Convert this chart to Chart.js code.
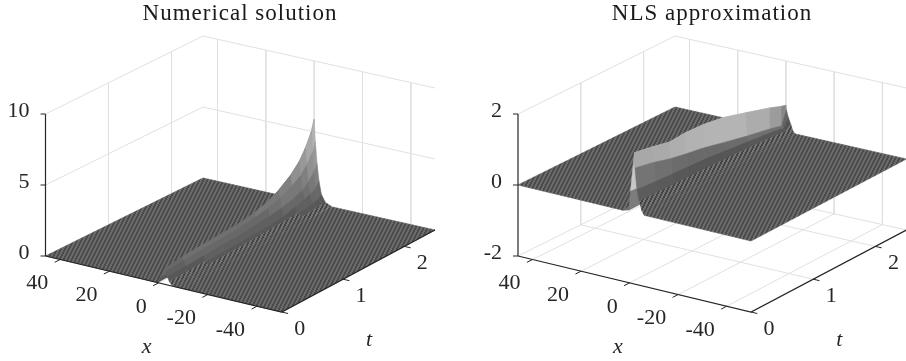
<!DOCTYPE html>
<html>
<head>
<meta charset="utf-8">
<script src="https://cdn.jsdelivr.net/npm/chart.js@4"></script>
<style>
  body { margin: 0; background: #fff; width: 906px; height: 361px; overflow: hidden; }
  canvas { position: absolute; top: 0; }
  #left { left: 0; }
  #right { left: 453px; }
</style>
</head>
<body>
<canvas id="left" width="453" height="361"></canvas>
<canvas id="right" width="453" height="361"></canvas>
<script>
// axis ticks
const xTicks = [40, 20, 0, -20, -40];
const tTicks = [0, 1, 2];
const numZTicks = [0, 5, 10];
const nlsZTicks = [-2, 0, 2];

// numerical solution: one row per t, one column per x offset from the crest
const numT = [0, 0.3, 0.6, 0.9, 1.2, 1.5, 1.7, 1.9, 2.1, 2.25, 2.35, 2.45, 2.5];
const numCrestX = [-2.4, -2.1, -1.85, -1.6, -1.3, -1, -0.85, -0.65, -0.45, -0.3, -0.2, -0.05, 0];
const numOffsets = [3, 1.2, 0, -0.5, -1.2, -2, -3, -4.6, -7];
const numZ = [
  [0, 0.5, 1.1, 0.9, 0.55, 0.25, 0.05, 0, 0],
  [0, 0.55, 1.25, 1, 0.6, 0.28, 0.08, 0, 0],
  [0, 0.6, 1.33, 1.05, 0.65, 0.32, 0.1, 0.01, 0],
  [0, 0.6, 1.38, 1.1, 0.7, 0.34, 0.12, 0.02, 0],
  [0, 0.6, 1.42, 1.15, 0.72, 0.38, 0.15, 0.03, 0],
  [0, 0.62, 1.6, 1.3, 0.82, 0.42, 0.17, 0.04, 0],
  [0, 0.65, 1.83, 1.45, 0.9, 0.46, 0.2, 0.05, 0],
  [0, 0.7, 2.25, 1.7, 1.05, 0.55, 0.24, 0.06, 0],
  [0, 0.75, 2.85, 2.1, 1.25, 0.68, 0.3, 0.08, 0],
  [0, 0.8, 3.5, 2.5, 1.5, 0.85, 0.38, 0.12, 0.01],
  [0, 0.85, 4.2, 3, 1.85, 1.05, 0.45, 0.16, 0.02],
  [0, 0.9, 5.1, 3.7, 2.4, 1.3, 0.55, 0.2, 0.03],
  [0, 1, 5.9, 4.3, 2.8, 1.6, 0.7, 0.22, 0.04]
];

// NLS approximation, same layout
const nlsT = [0, 0.3, 0.58, 0.84, 1.13, 1.46, 1.84, 2.23, 2.42, 2.5];
const nlsCrestX = [-2, -1.75, -1.55, -1.3, -1.05, -0.8, -0.45, -0.15, -0.05, 0];
const nlsOffsets = [4.9, 2.3, 1.6, 0.6, 0, -0.2, -1, -2, -3, -4];
const nlsZ = [
  [0, 0.05, 0.6, 1.3, 1.7, 1.27, 0.67, 0.36, 0.12, 0],
  [0, 0.05, 0.55, 1.2, 1.59, 1.15, 0.62, 0.34, 0.12, 0],
  [0, 0.05, 0.5, 1.1, 1.47, 1, 0.58, 0.32, 0.11, 0],
  [0, 0.05, 0.5, 1.1, 1.49, 0.9, 0.54, 0.3, 0.1, 0],
  [0, 0.05, 0.48, 1.05, 1.45, 0.8, 0.5, 0.28, 0.09, 0],
  [0, 0.04, 0.45, 0.95, 1.35, 0.65, 0.43, 0.25, 0.08, 0],
  [0, 0.03, 0.38, 0.8, 1.14, 0.48, 0.34, 0.2, 0.06, 0],
  [0, 0.03, 0.3, 0.65, 0.92, 0.33, 0.25, 0.15, 0.05, 0],
  [0, 0.03, 0.27, 0.55, 0.79, 0.24, 0.19, 0.12, 0.04, 0],
  [0, 0.02, 0.25, 0.5, 0.75, 0.62, 0.42, 0.24, 0.05, 0]
];

const xMin = -50, xMax = 46, tMax = 2.5;

function makeHatch(ctx, dark, light) {
  const tile = document.createElement('canvas');
  tile.width = 4; tile.height = 8;
  const c = tile.getContext('2d');
  for (let y = 0; y < 8; y++) {
    for (let x = 0; x < 4; x++) {
      const on = (x + Math.floor(y / 2)) % 4 < 2;
      c.fillStyle = on ? dark : light;
      c.fillRect(x, y, 1, 1);
    }
  }
  return ctx.createPattern(tile, 'repeat');
}

function grayOf(z) {
  const f = Math.min(1, Math.pow(z / 6, 0.85));
  const g = Math.round((78 + 122 * f) / 8) * 8;
  return `rgb(${g},${g},${g})`;
}

function drawPanel(cfg) {
  const [A, B, C, D] = cfg.corners;
  const project = (x, t, z) => {
    const u = (xMax - x) / (xMax - xMin), v = t / tMax;
    const a = (1 - u) * (1 - v), b = u * (1 - v), c = u * v, d = (1 - u) * v;
    return {
      x: a * A[0] + b * B[0] + c * C[0] + d * D[0],
      y: a * A[1] + b * B[1] + c * C[1] + d * D[1] - (z - cfg.zMin) * cfg.zUnit
    };
  };
  const canvas = document.getElementById(cfg.id);
  const ctx = canvas.getContext('2d');
  const hatch = makeHatch(ctx, '#4b4b4b', '#6b6b6b');
  const hatchLow = makeHatch(ctx, '#444444', '#747474');
  const sets = [];
  const line = (pts, color, width) => sets.push({
    data: pts, showLine: true, pointRadius: 0, borderColor: color, borderWidth: width, fill: false
  });
  const poly = (pts, color) => sets.push({
    data: pts.concat([pts[0]]), showLine: true, pointRadius: 0, borderColor: color, borderWidth: 0.6,
    backgroundColor: color, fill: 'shape'
  });

  // box grid
  const grid = '#e0e0e0';
  const zTop = cfg.zTicks[cfg.zTicks.length - 1];
  for (const z of cfg.zTicks) {
    line([project(xMax, 0, z), project(xMax, tMax, z), project(xMin, tMax, z)], grid, 1);
  }
  for (const t of tTicks.slice(1)) {
    line([project(xMax, t, zTop), project(xMax, t, cfg.zMin), project(xMin, t, cfg.zMin)], grid, 1);
  }
  for (const x of xTicks) {
    line([project(x, tMax, zTop), project(x, tMax, cfg.zMin), project(x, 0, cfg.zMin)], grid, 1);
  }

  // flat parts of the surface on either side of the ridge
  const n = cfg.rows.length;
  const last = cfg.offsets.length - 1;
  const leftEdge = cfg.rows.map((t, r) => project(cfg.crest[r] + cfg.offsets[0], t, 0));
  const rightEdge = cfg.rows.map((t, r) => project(cfg.crest[r] + cfg.offsets[last], t, 0));
  poly([project(xMax, 0, 0), project(xMax, tMax, 0)].concat(leftEdge.slice().reverse()), hatch);
  poly([project(xMin, 0, 0), project(xMin, tMax, 0)].concat(rightEdge.slice().reverse()), hatch);

  // ridge, back to front
  for (let r = n - 2; r >= 0; r--) {
    for (let c = 0; c < last; c++) {
      const pt = (i, j) => project(cfg.crest[i] + cfg.offsets[j], cfg.rows[i], cfg.z[i][j]);
      const mean = (cfg.z[r][c] + cfg.z[r][c + 1] + cfg.z[r + 1][c] + cfg.z[r + 1][c + 1]) / 4;
      poly([pt(r, c), pt(r, c + 1), pt(r + 1, c + 1), pt(r + 1, c)], cfg.face(r, c, mean, hatch, hatchLow));
    }
  }

  // axes
  const ink = '#262626';
  line([project(xMax, 0, cfg.zMin), project(xMax, 0, zTop)], ink, 1.2);
  line([project(xMax, 0, cfg.zMin), project(xMin, 0, cfg.zMin), project(xMin, tMax, cfg.zMin)], ink, 1.2);
  for (const z of cfg.zTicks) {
    const p = project(xMax, 0, z);
    line([p, { x: p.x - 5, y: p.y }], ink, 1);
  }
  for (const x of xTicks) {
    line([project(x, 0, cfg.zMin), project(x, -0.09, cfg.zMin)], ink, 1);
  }
  for (const t of tTicks) {
    line([project(xMin, t, cfg.zMin), project(xMin - 2.6, t, cfg.zMin)], ink, 1);
  }

  const labels = {
    id: 'labels',
    afterDraw(chart) {
      const c = chart.ctx, sx = chart.scales.x, sy = chart.scales.y;
      const put = (s, p, dx, dy, align, font) => {
        c.font = font || '22px "Liberation Serif"';
        c.textAlign = align;
        c.textBaseline = 'middle';
        c.fillStyle = '#262626';
        c.fillText(s, sx.getPixelForValue(p.x) + dx, sy.getPixelForValue(p.y) + dy);
      };
      for (const z of cfg.zTicks) put(String(z), project(xMax, 0, z), -16, -3, 'right');
      for (const x of xTicks) put(String(x), project(x, 0, cfg.zMin), -12, 24, 'right');
      for (const t of tTicks) put(String(t), project(xMin, t, cfg.zMin), 18, 17, 'center');
      put('x', project(6.5, 0, cfg.zMin), 4, 68, 'center', 'italic 22px "Liberation Serif"');
      put('t', project(xMin, 1, cfg.zMin), 26, 61, 'center', 'italic 22px "Liberation Serif"');
      c.letterSpacing = '1px';
      c.font = '23px "Liberation Serif"';
      c.textAlign = 'center';
      c.textBaseline = 'middle';
      c.fillStyle = '#1a1a1a';
      c.fillText(cfg.title, sx.getPixelForValue(cfg.titleX), sy.getPixelForValue(14));
      c.letterSpacing = '0px';
    }
  };

  new Chart(canvas, {
    type: 'scatter',
    data: { datasets: sets.reverse() },
    options: {
      responsive: false,
      animation: false,
      devicePixelRatio: 1,
      layout: { padding: 0 },
      plugins: { legend: { display: false }, tooltip: { enabled: false } },
      scales: {
        x: { type: 'linear', min: 0, max: 453, display: false },
        y: { type: 'linear', min: 0, max: 361, reverse: true, display: false }
      }
    },
    plugins: [labels]
  });
}

drawPanel({
  id: 'left', title: 'Numerical solution', titleX: 240,
  corners: [[45.5, 256], [281.7, 312], [435, 230], [203, 178]],
  zMin: 0, zUnit: 14.2, zTicks: numZTicks,
  rows: numT, crest: numCrestX, offsets: numOffsets, z: numZ,
  face: (r, c, mean, hatch, hatchLow) => (mean < 0.05 ? hatch : mean < 0.2 ? hatchLow : grayOf(mean))
});

// grey of each ridge face, by row for the two upper bands
const nlsTopGray = [168, 170, 174, 178, 180, 180, 172, 156, 136];
const nlsMidGray = [116, 112, 108, 106, 106, 108, 112, 110, 100];
const nlsLowGray = [92, 90, 88, 86, 86, 86, 88, 88, 84];
const nlsFaces = ['#6a6a6a', '#7c7c7c', '#c8c8c8', '#bcbcbc'];
drawPanel({
  id: 'right', title: 'NLS approximation', titleX: 259,
  corners: [[65, 256], [298, 312], [453.5, 230], [222, 178]],
  zMin: -2, zUnit: 35.5, zTicks: nlsZTicks,
  rows: nlsT, crest: nlsCrestX, offsets: nlsOffsets, z: nlsZ,
  face: (r, c, mean, hatch, hatchLow) => {
    if (c === 4) return `rgb(${nlsTopGray[r]},${nlsTopGray[r]},${nlsTopGray[r]})`;
    if (c === 5) return `rgb(${nlsMidGray[r]},${nlsMidGray[r]},${nlsMidGray[r]})`;
    if (c === 6) return `rgb(${nlsLowGray[r]},${nlsLowGray[r]},${nlsLowGray[r]})`;
    if (c === 7) return hatchLow;
    return nlsFaces[c] || hatch;
  }
});
</script>
</body>
</html>
